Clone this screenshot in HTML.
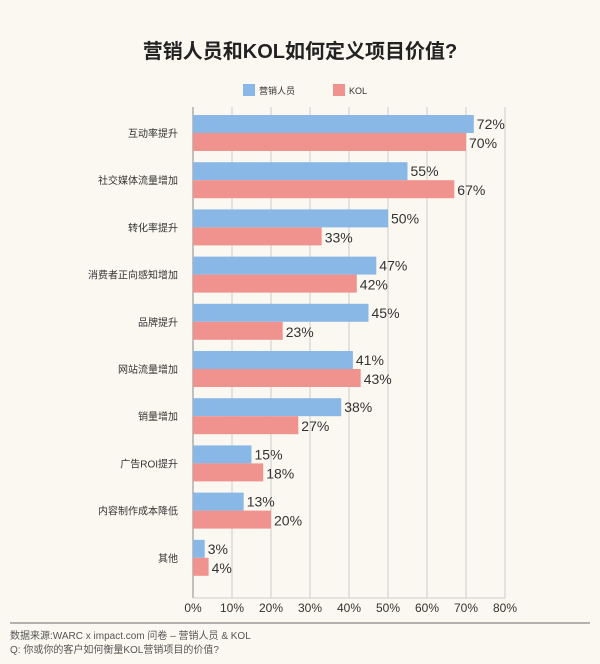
<!DOCTYPE html>
<html><head><meta charset="utf-8">
<style>
html,body{margin:0;padding:0;background:#fbf8f1;}
svg{display:block;font-family:"Liberation Sans","Noto Sans CJK SC",sans-serif;}
</style></head>
<body>
<svg id="chart" width="600" height="664" viewBox="0 0 600 664">
<rect width="600" height="664" fill="#fbf8f1"/>
<text x="300" y="58" text-anchor="middle" font-size="20" font-weight="bold" fill="#222">营销人员和KOL如何定义项目价值?</text>
<g>
<rect x="243" y="84" width="12" height="12" fill="#8ab8e6"/>
<text x="259" y="94" font-size="9" fill="#333">营销人员</text>
<rect x="333" y="84" width="12" height="12" fill="#f0938f"/>
<text x="349" y="94" font-size="9" fill="#333">KOL</text>
</g>
<g id="grid"></g>
<g id="bars"></g>
<g id="labels"></g>
<g id="ticks"></g>
<line x1="10" y1="623" x2="590" y2="623" stroke="#999" stroke-width="1.5"/>
<text x="10" y="639" font-size="10" fill="#555">数据来源:WARC x impact.com 问卷 – 营销人员 &amp; KOL</text>
<text x="10" y="653" font-size="10" fill="#555">Q: 你或你的客户如何衡量KOL营销项目的价值?</text>
</svg>
<script>
const categories = ["互动率提升","社交媒体流量增加","转化率提升","消费者正向感知增加","品牌提升","网站流量增加","销量增加","广告ROI提升","内容制作成本降低","其他"];
const marketers = [72,55,50,47,45,41,38,15,13,3];
const kol = [70,67,33,42,23,43,27,18,20,4];
const tickValues = [0,10,20,30,40,50,60,70,80];

const NS = "http://www.w3.org/2000/svg";
const x0 = 193, pxPer = 39.0, plotTop = 107, plotBottom = 598, firstBar = 115, step = 47.2, bh = 18;
const xs = v => x0 + v * pxPer / 10;
function mk(tag, attrs, parent){const e=document.createElementNS(NS,tag);for(const k in attrs)e.setAttribute(k,attrs[k]);parent.appendChild(e);return e;}
const grid = document.getElementById('grid'), bars = document.getElementById('bars'), labels = document.getElementById('labels'), ticks = document.getElementById('ticks');

tickValues.forEach(t => {
  const l = mk('line',{x1:xs(t),x2:xs(t),y1:plotTop,y2:plotBottom,stroke:t===0?'#888':'#ccc','stroke-width':1},grid);
  
  
  const tx = mk('text',{x:xs(t),y:612,'text-anchor':'middle','font-size':12,fill:'#333'},ticks);
  tx.textContent = t+'%';
  
  
});
const axisLine = mk('line',{x1:x0,x2:xs(80),y1:plotBottom,y2:plotBottom,stroke:'#ccc','stroke-width':1},grid);



categories.forEach((c,i) => {
  const y = firstBar + i*step;
  const b1 = mk('rect',{x:x0,y:y,width:xs(marketers[i])-x0,height:bh,fill:'#8ab8e6'},bars);
  
  
  const b2 = mk('rect',{x:x0,y:y+bh,width:xs(kol[i])-x0,height:bh,fill:'#f0938f'},bars);
  
  
  const v1 = mk('text',{x:xs(marketers[i])+3,y:y+14,'font-size':14,fill:'#333'},bars);
  v1.textContent = marketers[i]+'%';
  
  
  const v2 = mk('text',{x:xs(kol[i])+3,y:y+bh+15,'font-size':14,fill:'#333'},bars);
  v2.textContent = kol[i]+'%';
  
  
  const lb = mk('text',{x:178,y:y+bh+4,'text-anchor':'end','font-size':10,fill:'#333'},labels);
  lb.textContent = c;
  
  
});
</script>
</body></html>
